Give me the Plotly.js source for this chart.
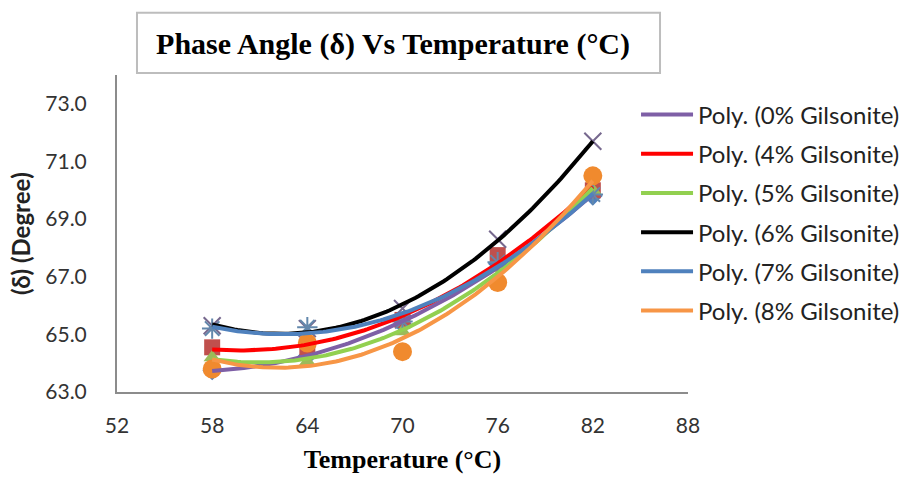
<!DOCTYPE html>
<html>
<head>
<meta charset="utf-8">
<script src="https://cdn.plot.ly/plotly-3.0.1.min.js"></script>
<style>html,body{margin:0;padding:0;background:#fff;}#chart{width:912px;height:479px;}</style>
</head>
<body>
<div id="chart"></div>
<script>
// Temperatures (°C)
const temps = [58, 64, 70, 76, 82];
// Phase angle (degree) for each Gilsonite content
const g0 = [63.75, 64.25, 65.35, 67.45, 69.8];
const g4 = [64.55, 64.55, 65.5, 67.75, 70.0];
const g5 = [64.2, 64.05, 65.1, 67.3, 70.0];
const g6 = [65.3, 65.2, 65.9, 68.3, 71.7];
const g7 = [65.2, 65.25, 65.45, 67.5, 69.85];
const g8 = [63.8, 64.7, 64.4, 66.8, 70.5];
const seriesNames = ['0% Gilsonite', '4% Gilsonite', '5% Gilsonite', '6% Gilsonite', '7% Gilsonite', '8% Gilsonite'];
const xTicks = [52, 58, 64, 70, 76, 82, 88];
const yTicks = [63, 65, 67, 69, 71, 73];

const seriesData = [g0, g4, g5, g6, g7, g8];
const markerStyles = [
  {symbol: 'diamond', color: '#4F81BD', size: 15, line: {width: 0}},
  {symbol: 'square', color: '#C0504D', size: 16, line: {width: 0}},
  {symbol: 'triangle-up', color: '#9BBB59', size: 15, line: {width: 0}},
  {symbol: 'x-thin-open', color: '#76688E', size: 17, line: {width: 2, color: '#76688E'}},
  {symbol: 'asterisk-open', color: '#6388AC', size: 17, line: {width: 2, color: '#6388AC'}},
  {symbol: 'circle', color: '#F08A2E', size: 19, line: {width: 0}}
];
const trendColors = ['#7E5FA6', '#FF0000', '#92D050', '#000000', '#4F81BD', '#F79646'];

// Order-2 polynomial least-squares trendline (as Excel "Poly." trendline)
function polyFit2(xs, ys) {
  let n = xs.length, sx = 0, sx2 = 0, sx3 = 0, sx4 = 0, sy = 0, sxy = 0, sx2y = 0;
  for (let i = 0; i < n; i++) {
    const x = xs[i], y = ys[i];
    sx += x; sx2 += x * x; sx3 += x * x * x; sx4 += x * x * x * x;
    sy += y; sxy += x * y; sx2y += x * x * y;
  }
  const A = [[n, sx, sx2, sy], [sx, sx2, sx3, sxy], [sx2, sx3, sx4, sx2y]];
  for (let i = 0; i < 3; i++) {
    for (let k = i + 1; k < 3; k++) {
      const f = A[k][i] / A[i][i];
      for (let j = i; j < 4; j++) A[k][j] -= f * A[i][j];
    }
  }
  const c = [0, 0, 0];
  for (let i = 2; i >= 0; i--) {
    let s = A[i][3];
    for (let j = i + 1; j < 3; j++) s -= A[i][j] * c[j];
    c[i] = s / A[i][i];
  }
  return c;
}

const traces = [];
seriesData.forEach((ys, i) => {
  traces.push({
    x: temps, y: ys, type: 'scatter', mode: 'markers', showlegend: false, hoverinfo: 'x+y',
    marker: markerStyles[i]
  });
});
seriesData.forEach((ys, i) => {
  const c = polyFit2(temps, ys);
  const xs = [], yv = [];
  const x0 = temps[0], x1 = temps[temps.length - 1];
  for (let k = 0; k <= 120; k++) {
    const x = x0 + (x1 - x0) * k / 120;
    xs.push(x); yv.push(c[0] + c[1] * x + c[2] * x * x);
  }
  traces.push({
    x: xs, y: yv, type: 'scatter', mode: 'lines', name: 'Poly. (' + seriesNames[i] + ')',
    legendgroup: 'g' + i, line: {color: trendColors[i], width: 4}, hoverinfo: 'skip'
  });
});

const layout = {
  width: 912, height: 479,
  margin: {l: 117, r: 224, t: 75, b: 87, autoexpand: false},
  paper_bgcolor: '#ffffff', plot_bgcolor: '#ffffff',
  font: {family: 'Lato, "Liberation Sans", sans-serif', color: '#222'},
  title: {
    text: '<b>Phase Angle (δ) Vs Temperature (°C)</b>',
    font: {family: '"Liberation Serif", "DejaVu Serif", serif', size: 30, color: '#000'},
    x: 0.431, xanchor: 'center', xref: 'container',
    y: 0.91, yanchor: 'middle', yref: 'container'
  },
  xaxis: {
    range: [52, 88], tickvals: xTicks, ticktext: xTicks.map(String),
    showgrid: false, zeroline: false, showline: true, linecolor: '#8C8C8C', linewidth: 2,
    ticks: '', ticklabelstandoff: 14,
    tickfont: {size: 21, color: '#333'},
    title: {text: '<b>Temperature (°C)</b>', standoff: 14,
      font: {family: '"Liberation Serif", serif', size: 26, color: '#000'}}
  },
  yaxis: {
    range: [63, 74], tickvals: yTicks, ticktext: yTicks.map(v => v.toFixed(1)),
    showgrid: false, zeroline: false, showline: true, linecolor: '#8C8C8C', linewidth: 2,
    ticks: '', ticklabelstandoff: 24,
    tickfont: {size: 21, color: '#333'},
    title: {text: '<b>(δ) (Degree)</b>', standoff: 8,
      font: {family: 'Lato, sans-serif', size: 24, color: '#222'}}
  },
  legend: {
    x: 0.909, xanchor: 'left', y: 0.945, yanchor: 'top',
    bgcolor: 'rgba(0,0,0,0)', borderwidth: 0,
    font: {family: 'Lato, sans-serif', size: 24, color: '#222'},
    tracegroupgap: 5, itemwidth: 52, traceorder: 'grouped'
  },
  shapes: [{
    type: 'rect', xref: 'paper', yref: 'paper',
    x0: 0.035, x1: 0.951, y0: 1.006, y1: 1.196,
    line: {color: '#BDBDBD', width: 2}, fillcolor: 'rgba(0,0,0,0)'
  }],
  showlegend: true
};

Plotly.newPlot('chart', traces, layout, {displayModeBar: false, staticPlot: true});
</script>
</body>
</html>
